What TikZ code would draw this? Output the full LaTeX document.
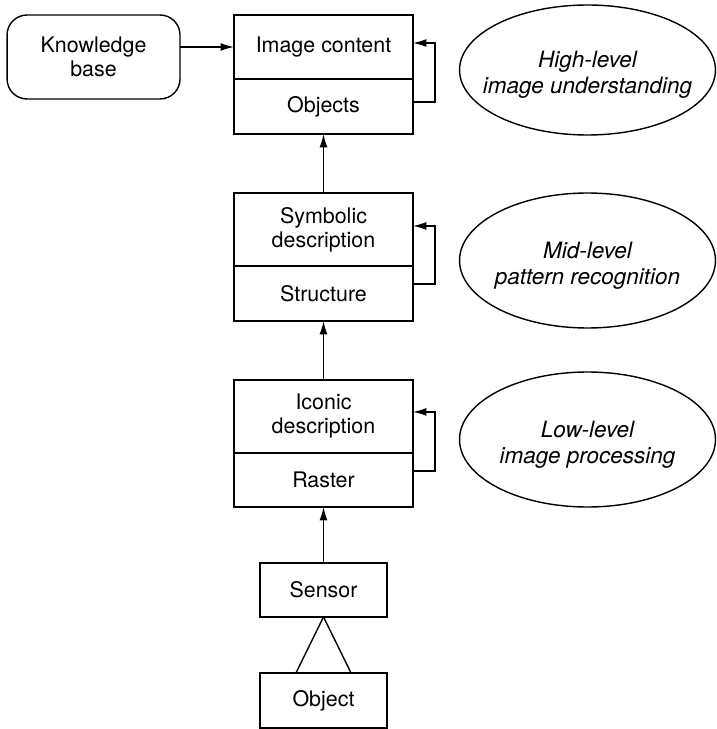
\documentclass[tikz,border=0pt]{standalone}
\usepackage{fontspec}
\setmainfont{TeX Gyre Heros}
\usetikzlibrary{positioning, arrows.meta, shapes.geometric}
\tikzset{>={Latex[length=2.7mm,width=1.6mm]}, % filled arrow heads
every node/.style={font=\fontsize{12.2}{13.7}\selectfont, align=center},
part/.style={draw, minimum width=3.58cm, inner sep=0pt, outer sep=0pt}, % one half of a stacked box
level/.style={draw, ellipse, inner sep=0pt, minimum width=5.12cm}, % the level labels on the right
leveltext/.style={font=\fontsize{12.8}{14.6}\selectfont\itshape, align=center, yshift=-0.1cm},
}

\begin{document}
\begin{tikzpicture}[x=0.02cm, y=-0.02cm, line width=0.8pt]
  \useasboundingbox (0,0) rectangle (716,729);

  \node[part, minimum height=1.28cm] (content) at (323.5,47) {Image content};
  \node[part, minimum height=1.1cm, below=0pt of content] (objects) {Objects};
  \node[part, minimum height=1.46cm, below=1.18cm of objects] (symbolic) {Symbolic\\description};
  \node[part, minimum height=1.1cm, below=0pt of symbolic] (structure) {Structure};
  \node[part, minimum height=1.46cm, below=1.18cm of structure] (iconic) {Iconic\\description};
  \node[part, minimum height=1.08cm, below=0pt of iconic] (raster) {Raster};
  \node[draw, outer sep=0pt, minimum width=2.54cm, minimum height=1.08cm, below=1.12cm of raster] (sensor) {Sensor};
  \node[draw, outer sep=0pt, minimum width=2.54cm, minimum height=1.1cm, below=1.12cm of sensor] (object) {Object};
  \node[draw, rounded corners=0.4cm, outer sep=0pt, minimum width=3.46cm, minimum height=1.68cm, left=1.08cm of content, yshift=-0.2cm] (kb) {Knowledge\\base};

  \node[level, minimum height=2.6cm, label={[leveltext]center:High-level\\image understanding}] (high) at (587.5,70) {};
  \node[level, minimum height=2.7cm, label={[leveltext]center:Mid-level\\pattern recognition}] (mid) at (587.5,260.5) {};
  \node[level, minimum height=2.7cm, label={[leveltext]center:Low-level\\image processing}] (low) at (587.5,439.5) {};

  \draw[->] (kb.east |- content.west) -- (content.west);
  \draw[->] (symbolic.north) -- (objects.south);
  \draw[->] (iconic.north) -- (structure.south);
  \draw[->] (sensor.north) -- (raster.south);

  % feedback on each level
  \draw[->] ([yshift=-0.46cm]objects.north east) -- ++(22,0) |- ([yshift=0.08cm]content.east);
  \draw[->] ([yshift=-0.36cm]structure.north east) -- ++(22,0) |- ([yshift=0.07cm]symbolic.east);
  \draw[->] ([yshift=-0.36cm]raster.north east) -- ++(22,0) |- ([yshift=0.09cm]iconic.east);

  \draw (sensor.south) -- ([xshift=-0.55cm]object.north);
  \draw (sensor.south) -- ([xshift=0.55cm]object.north);
\end{tikzpicture}
\end{document}
